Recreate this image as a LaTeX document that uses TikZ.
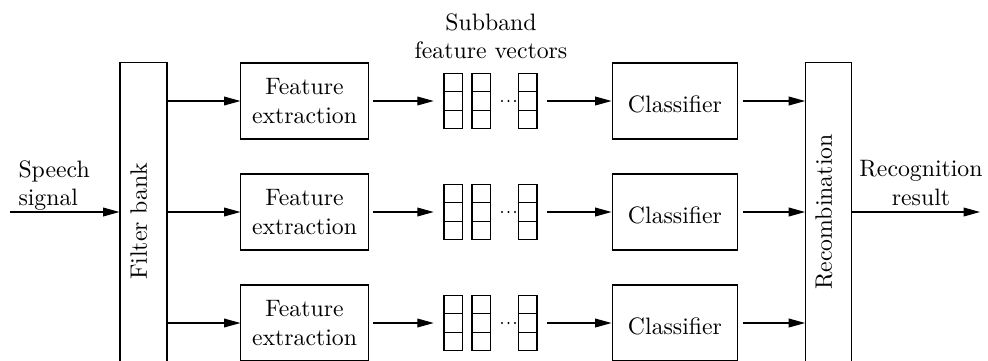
\documentclass[tikz,border=0pt]{standalone}
\usepackage{graphicx}
\usetikzlibrary{arrows.meta}
\begin{document}
\begin{tikzpicture}[x=0.421pt,y=-0.421pt,
  line width=0.45pt,
  box/.style={draw, inner sep=0pt, align=center},
  fexbox/.style={box, minimum width=53.5pt, minimum height=32pt},
  clsbox/.style={box, minimum width=53pt, minimum height=32pt, text height=10pt, text depth=0pt},
  txt/.style={inner sep=0pt},
  arr/.style={-{Triangle[length=6.9pt,width=3.7pt]}}
]
\useasboundingbox (0,0) rectangle (988,360);
\clip (0,0) rectangle (988,360);

% filter bank and recombination stages
\node[box, minimum width=19.8pt, minimum height=133.5pt] (fb) at (143.5,221.5)
  {\rotatebox{90}{\rule[-4.2pt]{0pt}{4.2pt}Filter bank}};
\node[box, minimum width=19.4pt, minimum height=125.5pt] (rc) at (828.7,212)
  {\rotatebox{90}{\rule[-4.2pt]{0pt}{4.2pt}Recombination}};

% input and output
\coordinate (sin) at (10,212);
\node[txt, anchor=north west, align=left] (speech) at (18,160) {Speech\\signal};
\draw[arr] (sin) -- (sin -| fb.west);
\coordinate (sout) at (980,212);
\draw[arr] (rc.east |- sout) -- (sout);
\node[txt, anchor=north, align=center] (recres) at (921,160) {Recognition\\result};

\node[txt, anchor=north, align=center] (subband) at (491,13) {Subband\\feature vectors};

% one processing chain per subband
\foreach \i/\r in {1/101, 2/212, 3/323} {
  \node[fexbox] (fe\i) at (304.5,\r) {Feature\\extraction};
  \node[clsbox] (cl\i) at (675,\r) {Classifier};
  \node[inner sep=0pt, minimum width=39.2pt, minimum height=23.2pt] (vec\i) at (490.75,\r) {};
  % feature vector columns
  \foreach \c in {444,472,518.5} {
    \draw (\c,\r-27.5) rectangle (\c+18.5,\r+27.5);
    \draw (\c,\r-9.17) -- (\c+18.5,\r-9.17) (\c,\r+9.17) -- (\c+18.5,\r+9.17);
  }
  \foreach \d in {502,508.5,515}
    \fill (\d,\r) circle (1.1);
  % connectors
  \draw[arr] (fb.east |- fe\i.west) -- (fe\i.west);
  \draw[arr, shorten <=1.7pt, shorten >=4.2pt] (fe\i.east) -- (vec\i.west);
  \draw[arr, shorten <=4pt] (vec\i.east) -- (cl\i.west);
  \draw[arr, shorten <=1.7pt] (cl\i.east) -- (cl\i.east -| rc.west);
}
\end{tikzpicture}
\end{document}
